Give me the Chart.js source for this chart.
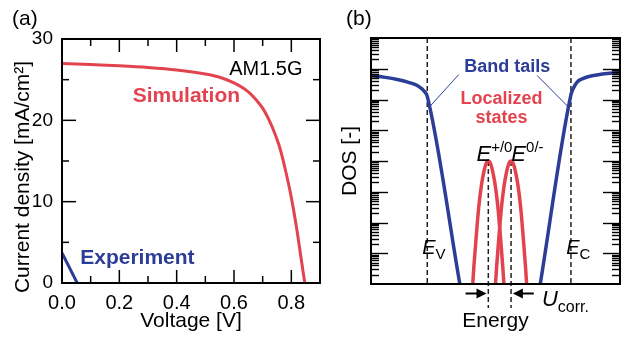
<!DOCTYPE html>
<html>
<head>
<meta charset="utf-8">
<script src="https://cdn.jsdelivr.net/npm/chart.js@4.4.1/dist/chart.umd.min.js"></script>
<style>
  html, body { margin: 0; padding: 0; background: #fff; }
  #wrap { position: relative; width: 621px; height: 338px; overflow: hidden; font-family: "Liberation Sans", Arial, sans-serif; }
  canvas { position: absolute; top: 0; }
  .panel { position: absolute; font-size: 21px; line-height: 21px; color: #000; }
</style>
</head>
<body>
<div id="wrap">
  <canvas id="jv" width="323" height="338" style="left:0"></canvas>
  <canvas id="dos" width="301" height="338" style="left:320px"></canvas>
  <div class="panel" style="left:12px; top:7px">(a)</div>
  <div class="panel" style="left:346px; top:7px">(b)</div>
</div>
<script>
// (a) J-V curves
const simVoltage = [0, 0.1, 0.2, 0.3, 0.4, 0.5, 0.55, 0.6, 0.65, 0.68, 0.7, 0.72, 0.74, 0.76, 0.78, 0.8, 0.82, 0.835, 0.847];
const simCurrent = [27.0, 26.85, 26.7, 26.5, 26.2, 25.7, 25.3, 24.6, 23.5, 22.4, 21.5, 20.2, 18.6, 16.6, 13.8, 10.5, 6.4, 2.8, 0];
const expVoltage = [0, 0.053];
const expCurrent = [3.7, 0];

// (b) DOS sketch, DOS given as log10 values
const leftTailEnergy = [-0.47, -0.35, -0.25, -0.15, -0.08, -0.04, -0.015, 0, 0.272];
const leftTailLogDos = [6.78, 6.72, 6.65, 6.55, 6.45, 6.33, 6.22, 6.1, 0];
const rightTailEnergy = [0.944, 1.2, 1.215, 1.25, 1.3, 1.35, 1.45, 1.55, 1.61];
const rightTailLogDos = [0, 6.15, 6.32, 6.56, 6.68, 6.75, 6.82, 6.86, 6.88];
const peakOffset = [-0.13, -0.12, -0.1, -0.08, -0.06, -0.04, -0.02, 0, 0.02, 0.04, 0.06, 0.08, 0.1, 0.12, 0.13];
const peakLogDos = [0, 0.6, 1.6, 2.5, 3.15, 3.6, 3.9, 4.0, 3.9, 3.6, 3.15, 2.5, 1.6, 0.6, 0];
const defectLevels = [0.51, 0.70]; // E+/0, E0/-
const bandEdges = [0, 1.2];         // Ev, Ec

const FONT = '"Liberation Sans", Arial, sans-serif';
const RED = '#e2434f';
const BLUE = '#2b3d96';
Chart.defaults.font.family = FONT;
Chart.defaults.color = '#000';

function seg(ctx, x1, y1, x2, y2) {
  ctx.beginPath(); ctx.moveTo(x1, y1); ctx.lineTo(x2, y2); ctx.stroke();
}

function richText(ctx, parts, x, y, align) {
  let w = 0;
  parts.forEach(p => { ctx.font = p.font; w += ctx.measureText(p.text).width; });
  let cx = align === 'center' ? x - w / 2 : x;
  parts.forEach(p => {
    ctx.font = p.font;
    ctx.fillText(p.text, cx, y + (p.dy || 0));
    cx += ctx.measureText(p.text).width;
  });
}

// keep the plot box where it is, whatever the tick labels need
function fixBox(size, key) {
  return s => {
    s[key] = size;
    s.paddingLeft = 0; s.paddingRight = 0; s.paddingTop = 0; s.paddingBottom = 0;
  };
}

const jvNotes = [
  { text: 'AM1.5G', v: 0.711, j: 26.3, font: '20px ' + FONT, color: '#000' },
  { text: 'Simulation', v: 0.434, j: 23.0, font: 'bold 21px ' + FONT, color: RED },
  { text: 'Experiment', v: 0.263, j: 3.1, font: 'bold 21px ' + FONT, color: BLUE }
];

const jvDecor = {
  id: 'jvDecor',
  afterDatasetsDraw(chart) {
    const { ctx, chartArea: a, scales: { x, y } } = chart;
    ctx.save();
    ctx.strokeStyle = '#000';
    ctx.lineWidth = 1.5;
    x.ticks.forEach(t => {
      const px = x.getPixelForValue(t.value);
      if (px <= a.left + 1 || px >= a.right - 1) return;
      const len = Math.round(t.value * 10) % 2 === 0 ? 13 : 7;
      seg(ctx, px, a.bottom, px, a.bottom - len);
      seg(ctx, px, a.top, px, a.top + len);
    });
    y.ticks.forEach(t => {
      const py = y.getPixelForValue(t.value);
      if (py <= a.top + 1 || py >= a.bottom - 1) return;
      const len = t.value % 10 === 0 ? 14 : 7;
      seg(ctx, a.left, py, a.left + len, py);
      seg(ctx, a.right, py, a.right - len, py);
    });
    ctx.lineWidth = 2;
    ctx.strokeRect(a.left, a.top, a.right - a.left, a.bottom - a.top);

    ctx.textAlign = 'center';
    ctx.textBaseline = 'middle';
    jvNotes.forEach(n => {
      ctx.font = n.font;
      ctx.fillStyle = n.color;
      ctx.fillText(n.text, x.getPixelForValue(n.v), y.getPixelForValue(n.j));
    });

    // y axis title, shifted down like the original
    ctx.fillStyle = '#000';
    ctx.font = '21px ' + FONT;
    ctx.translate(23, 177);
    ctx.rotate(-Math.PI / 2);
    ctx.fillText('Current density [mA/cm\u00B2]', 0, 0);
    ctx.restore();
  }
};

new Chart(document.getElementById('jv'), {
  type: 'line',
  data: {
    datasets: [
      {
        label: 'Simulation',
        data: simVoltage.map((v, i) => ({ x: v, y: simCurrent[i] })),
        borderColor: RED,
        borderWidth: 3,
        pointRadius: 0,
        cubicInterpolationMode: 'monotone'
      },
      {
        label: 'Experiment',
        data: expVoltage.map((v, i) => ({ x: v, y: expCurrent[i] })),
        borderColor: BLUE,
        borderWidth: 3,
        pointRadius: 0
      }
    ]
  },
  options: {
    responsive: false,
    animation: false,
    events: [],
    layout: { autoPadding: false, padding: { top: 39, right: 3, left: 0, bottom: 0 } },
    plugins: { legend: { display: false }, tooltip: { enabled: false } },
    scales: {
      x: {
        type: 'linear',
        min: 0,
        max: 0.9,
        grid: { display: false, drawTicks: false },
        border: { display: false },
        ticks: {
          stepSize: 0.1,
          autoSkip: false,
          maxRotation: 0,
          padding: 8,
          font: { size: 20 },
          callback: v => (Math.round(v * 10) % 2 === 0 ? v.toFixed(1) : '')
        },
        title: { display: true, text: 'Voltage [V]', font: { size: 21 }, padding: { top: 0, bottom: 4 } },
        afterFit: fixBox(55, 'height')
      },
      y: {
        type: 'linear',
        min: 0,
        max: 30,
        grid: { display: false, drawTicks: false },
        border: { display: false },
        ticks: {
          stepSize: 5,
          padding: 9,
          font: { size: 19 },
          callback: v => (v % 10 === 0 ? v : '')
        },
        afterFit: fixBox(62, 'width')
      }
    }
  },
  plugins: [jvDecor]
});

// annotations of (b), positions in energy / log10(DOS)
const dosNotes = [
  { parts: [{ text: 'Band tails', font: 'bold 18px ' + FONT }], e: 0.669, lg: 7.07, color: BLUE, align: 'center', base: 'middle' },
  { parts: [{ text: 'Localized', font: 'bold 18px ' + FONT }], e: 0.62, lg: 6.03, color: RED, align: 'center', base: 'middle' },
  { parts: [{ text: 'states', font: 'bold 18px ' + FONT }], e: 0.62, lg: 5.41, color: RED, align: 'center', base: 'middle' },
  { parts: [{ text: 'E', font: 'italic 20px ' + FONT }, { text: 'V', font: '15px ' + FONT, dy: 5 }], e: -0.042, lg: 0.98, color: '#000', align: 'left', base: 'alphabetic' },
  { parts: [{ text: 'E', font: 'italic 20px ' + FONT }, { text: 'C', font: '15px ' + FONT, dy: 5 }], e: 1.161, lg: 0.98, color: '#000', align: 'left', base: 'alphabetic' },
  { parts: [{ text: 'E', font: 'italic 22px ' + FONT }, { text: '+/0', font: '15px ' + FONT, dy: -9 }], e: 0.411, lg: 4.01, color: '#000', align: 'left', base: 'alphabetic' },
  { parts: [{ text: 'E', font: 'italic 22px ' + FONT }, { text: '0/-', font: '15px ' + FONT, dy: -9 }], e: 0.7025, lg: 4.01, color: '#000', align: 'left', base: 'alphabetic' }
];
const leaders = [
  [0.263, 6.81, 0.028, 5.80],
  [0.918, 6.78, 1.173, 5.78]
];

function arrow(ctx, x1, y, x2) {
  const dir = Math.sign(x2 - x1);
  ctx.lineWidth = 2;
  seg(ctx, x1, y, x2 - dir * 8, y);
  ctx.beginPath();
  ctx.moveTo(x2, y);
  ctx.lineTo(x2 - dir * 10, y - 5);
  ctx.lineTo(x2 - dir * 10, y + 5);
  ctx.closePath();
  ctx.fill();
}

const dosDecor = {
  id: 'dosDecor',
  beforeDatasetsDraw(chart) {
    const { ctx, chartArea: a, scales: { x, y } } = chart;
    ctx.save();
    ctx.strokeStyle = '#222';
    ctx.lineWidth = 1.5;
    ctx.setLineDash([5, 3]);
    bandEdges.forEach(e => {
      const px = x.getPixelForValue(e);
      seg(ctx, px, a.top, px, a.bottom);
    });
    defectLevels.forEach(e => {
      const px = x.getPixelForValue(e);
      seg(ctx, px, y.getPixelForValue(Math.pow(10, 4)), px, a.bottom + 24);
    });
    ctx.restore();
  },
  afterDatasetsDraw(chart) {
    const { ctx, chartArea: a, scales: { x, y } } = chart;
    ctx.save();
    ctx.strokeStyle = '#000';
    ctx.fillStyle = '#000';
    ctx.lineWidth = 1.4;
    for (let d = 0; d < 8; d++) {
      for (let k = 1; k <= 9; k++) {
        if (d === 0 && k === 1) continue;
        const py = Math.round(y.getPixelForValue(k * Math.pow(10, d))) + 0.5;
        const len = k === 1 ? 17 : 8;
        seg(ctx, a.left, py, a.left + len, py);
        seg(ctx, a.right, py, a.right - len, py);
      }
    }
    ctx.lineWidth = 2;
    ctx.strokeRect(a.left, a.top, a.right - a.left, a.bottom - a.top);

    // leader lines from "Band tails"
    ctx.strokeStyle = BLUE;
    ctx.lineWidth = 1;
    leaders.forEach(l => {
      seg(ctx, x.getPixelForValue(l[0]), y.getPixelForValue(Math.pow(10, l[1])),
        x.getPixelForValue(l[2]), y.getPixelForValue(Math.pow(10, l[3])));
    });

    // Ucorr arrows under the axis
    ctx.strokeStyle = '#000';
    const ay = a.bottom + 9.5;
    arrow(ctx, x.getPixelForValue(defectLevels[0] - 0.19), ay, x.getPixelForValue(defectLevels[0] - 0.015));
    arrow(ctx, x.getPixelForValue(defectLevels[1] + 0.19), ay, x.getPixelForValue(defectLevels[1] + 0.015));
    ctx.textAlign = 'left';
    ctx.textBaseline = 'alphabetic';
    richText(ctx, [{ text: 'U', font: 'italic 22px ' + FONT }, { text: 'corr.', font: '16px ' + FONT, dy: 6 }],
      x.getPixelForValue(0.958), a.bottom + 22, 'left');

    dosNotes.forEach(n => {
      ctx.fillStyle = n.color;
      ctx.textAlign = 'left';
      ctx.textBaseline = n.base;
      richText(ctx, n.parts, x.getPixelForValue(n.e), y.getPixelForValue(Math.pow(10, n.lg)), n.align);
    });
    ctx.restore();
  }
};

const toPoints = (es, lgs) => es.map((e, i) => ({ x: e, y: Math.pow(10, lgs[i]) }));

new Chart(document.getElementById('dos'), {
  type: 'line',
  data: {
    datasets: [
      { data: toPoints(leftTailEnergy, leftTailLogDos), borderColor: BLUE },
      { data: toPoints(rightTailEnergy, rightTailLogDos), borderColor: BLUE },
      { data: toPoints(peakOffset.map(d => defectLevels[0] + d), peakLogDos), borderColor: RED },
      { data: toPoints(peakOffset.map(d => defectLevels[1] + d), peakLogDos), borderColor: RED }
    ].map(ds => Object.assign(ds, { borderWidth: 3.5, pointRadius: 0, cubicInterpolationMode: 'monotone' }))
  },
  options: {
    responsive: false,
    animation: false,
    events: [],
    layout: { autoPadding: false, padding: { top: 38, right: 1, left: 0, bottom: 0 } },
    plugins: { legend: { display: false }, tooltip: { enabled: false } },
    scales: {
      x: {
        type: 'linear',
        min: -0.47,
        max: 1.61,
        grid: { display: false, drawTicks: false },
        border: { display: false },
        ticks: { display: false },
        title: { display: true, text: 'Energy', font: { size: 21 }, padding: { top: 0, bottom: 4 } },
        afterFit: fixBox(54, 'height')
      },
      y: {
        type: 'logarithmic',
        min: 1,
        max: 1e8,
        grid: { display: false, drawTicks: false },
        border: { display: false },
        ticks: { display: false },
        title: { display: true, text: 'DOS [-]', font: { size: 21 }, padding: { top: 18, bottom: 0 } },
        afterFit: fixBox(51, 'width')
      }
    }
  },
  plugins: [dosDecor]
});
</script>
</body>
</html>
